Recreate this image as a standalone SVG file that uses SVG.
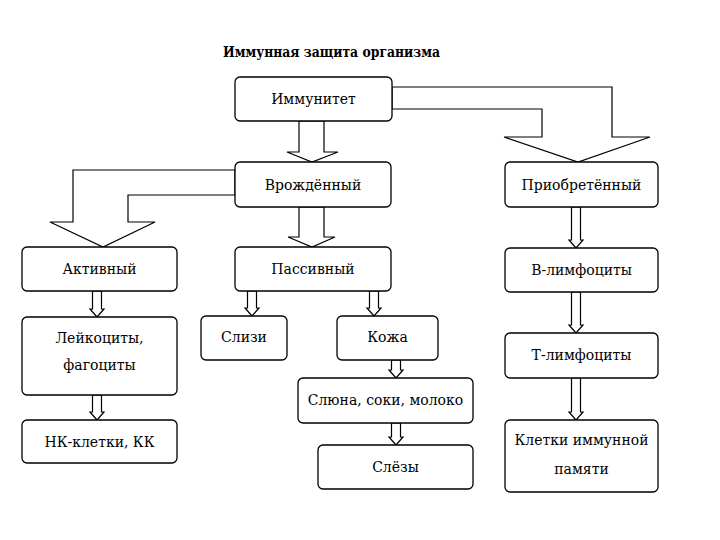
<svg xmlns="http://www.w3.org/2000/svg" width="720" height="540" viewBox="0 0 720 540">
<style>
.bg{fill:#fff}
.box{fill:#fff;stroke:#000;stroke-width:1.3}
.arr{fill:#fff;stroke:#000;stroke-width:1.2;stroke-linejoin:miter}
.t{font-family:"DejaVu Serif",serif;font-size:14px;fill:#000;text-anchor:middle}
.title{font-family:"DejaVu Serif",serif;font-size:14px;font-weight:bold;fill:#000;text-anchor:middle}
</style>
<rect class="bg" x="0" y="0" width="720" height="540"/>
<text class="title" x="331.5" y="57" textLength="217" lengthAdjust="spacingAndGlyphs">Иммунная защита организма</text>
<g id="connectors">
<polygon class="arr" points="299,121 324,121 324,152 338,152 312,162 287,152 299,152"/>
<polygon class="arr" points="392,87 612,87 612,137 650,137 578,162 504,137 542,137 542,109 392,109"/>
<polygon class="arr" points="235,170 73,170 73,222 50,222 103,247 155,222 128,222 128,195 235,195"/>
<polygon class="arr" points="299,207 324,207 324,237 335,237 312,247 288,237 299,237"/>
<polygon class="arr" points="92.5,291 101.5,291 101.5,309 104,309 97,317 90,309 92.5,309"/>
<polygon class="arr" points="92.5,395 101.5,395 101.5,412 104,412 97,420 90,412 92.5,412"/>
<polygon class="arr" points="247.5,291 256.5,291 256.5,308 259,308 252,316 245,308 247.5,308"/>
<polygon class="arr" points="369.5,291 378.5,291 378.5,308 381,308 374,316 367,308 369.5,308"/>
<polygon class="arr" points="391.5,360 400.5,360 400.5,370 403,370 396,378 389,370 391.5,370"/>
<polygon class="arr" points="391.5,423 400.5,423 400.5,437 403,437 396,445 389,437 391.5,437"/>
<polygon class="arr" points="571.5,207 580.5,207 580.5,240 583,240 576,248 569,240 571.5,240"/>
<polygon class="arr" points="571.5,292 580.5,292 580.5,325 583,325 576,333 569,325 571.5,325"/>
<polygon class="arr" points="571.5,378 580.5,378 580.5,412 583,412 576,420 569,412 571.5,412"/>
</g>
<g id="immunity"><rect class="box" x="235" y="77" width="157" height="44" rx="5"/><text class="t" x="313.5" y="104">Иммунитет</text></g>
<g id="innate"><rect class="box" x="235" y="162" width="156" height="45" rx="5"/><text class="t" x="313" y="190">Врождённый</text></g>
<g id="acquired"><rect class="box" x="505" y="162" width="153" height="45" rx="5"/><text class="t" x="581.5" y="190">Приобретённый</text></g>
<g id="active"><rect class="box" x="22" y="247" width="155" height="44" rx="5"/><text class="t" x="99.5" y="274">Активный</text></g>
<g id="passive"><rect class="box" x="235" y="247" width="156" height="44" rx="5"/><text class="t" x="313" y="274">Пассивный</text></g>
<g id="leukocytes"><rect class="box" x="22" y="317" width="155" height="78" rx="5"/><text class="t" x="99.5" y="343">Лейкоциты,</text><text class="t" x="99.5" y="370">фагоциты</text></g>
<g id="nk"><rect class="box" x="22" y="420" width="155" height="43" rx="5"/><text class="t" x="99.5" y="447">НК-клетки, КК</text></g>
<g id="mucus"><rect class="box" x="201" y="316" width="86" height="44" rx="5"/><text class="t" x="244" y="342">Слизи</text></g>
<g id="skin"><rect class="box" x="337" y="316" width="101" height="44" rx="5"/><text class="t" x="387.5" y="342">Кожа</text></g>
<g id="saliva"><rect class="box" x="298" y="378" width="175" height="45" rx="5"/><text class="t" x="385.5" y="405" font-size="13.5">Слюна, соки, молоко</text></g>
<g id="tears"><rect class="box" x="318" y="445" width="155" height="44" rx="5"/><text class="t" x="395.5" y="472">Слёзы</text></g>
<g id="b-lymph"><rect class="box" x="505" y="248" width="153" height="44" rx="5"/><text class="t" x="581.5" y="275">В-лимфоциты</text></g>
<g id="t-lymph"><rect class="box" x="505" y="333" width="153" height="45" rx="5"/><text class="t" x="581.5" y="360">Т-лимфоциты</text></g>
<g id="memory"><rect class="box" x="505" y="420" width="153" height="72" rx="5"/><text class="t" x="581.5" y="445">Клетки иммунной</text><text class="t" x="581.5" y="474">памяти</text></g>
</svg>
